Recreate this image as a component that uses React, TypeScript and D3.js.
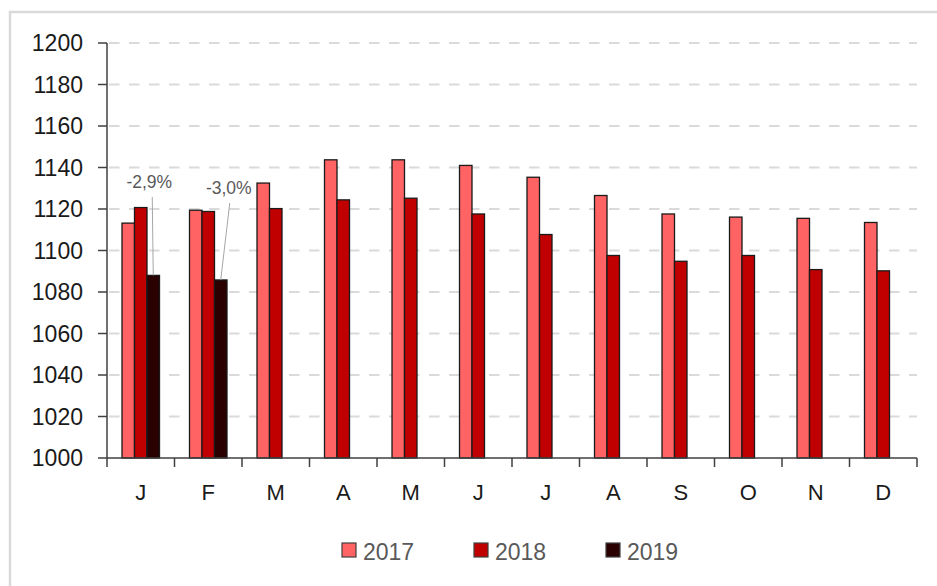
import React from 'react';
import * as d3 from 'd3';

// monthly values
const months = ['J', 'F', 'M', 'A', 'M', 'J', 'J', 'A', 'S', 'O', 'N', 'D'];
const series = ['2017', '2018', '2019'];
const values2017 = [1113.2, 1119.4, 1132.5, 1143.7, 1143.7, 1141, 1135.3, 1126.5, 1117.6, 1116.1, 1115.5, 1113.5];
const values2018 = [1120.7, 1118.8, 1120.2, 1124.4, 1125.2, 1117.6, 1107.7, 1097.6, 1094.8, 1097.6, 1090.8, 1090.2];
const values2019 = [1088, 1085.8];
const yTicks = [1000, 1020, 1040, 1060, 1080, 1100, 1120, 1140, 1160, 1180, 1200];
const annotations = [
  { month: 0, text: '-2,9%' },
  { month: 1, text: '-3,0%' },
];

const colors: Record<string, string> = { '2017': '#ff6363', '2018': '#c00000', '2019': '#2a0000' };
const seriesValues: Record<string, number[]> = { '2017': values2017, '2018': values2018, '2019': values2019 };

export default function App() {
  const width = 937;
  const height = 586;
  const margin = { top: 43, right: 20, bottom: 128, left: 107 };
  const plotRight = width - margin.right;
  const plotBottom = height - margin.bottom;

  const x = d3.scaleBand<number>()
    .domain(months.map((_, i) => i))
    .range([margin.left, plotRight]);

  const groupWidth = 37.5;
  const inner = d3.scaleBand<string>()
    .domain(series)
    .range([-groupWidth / 2, groupWidth / 2]);

  const y = d3.scaleLinear()
    .domain([1000, 1200])
    .range([plotBottom, margin.top]);

  const font = '"Liberation Sans", Arial, sans-serif';
  const axisColor = '#404040';

  const tickXs = d3.range(months.length + 1).map(i => margin.left + i * x.bandwidth());

  return (
    <svg width={width} height={height} style={{ position: 'absolute', left: 0, top: 0, background: '#fff' }}>
      <rect x={10} y={12} width={width + 20} height={height + 20} fill="#fff" stroke="#d9d9d9" strokeWidth={2.5} />

      {/* gridlines */}
      {yTicks.filter(t => t > 1000).map(t => (
        <line key={t} x1={margin.left + 2} x2={plotRight} y1={y(t)} y2={y(t)}
          stroke="#dadada" strokeWidth={2.2} strokeDasharray="10.5,9.5" />
      ))}

      {/* bars */}
      {series.map(s => seriesValues[s].map((v, i) => {
        const cx = x(i)! + x.bandwidth() / 2;
        return (
          <rect key={s + i} x={cx + inner(s)!} y={y(v)} width={inner.bandwidth()} height={plotBottom - y(v)}
            fill={colors[s]} stroke="#1a1a1a" strokeWidth={1.3} />
        );
      }))}

      {/* y axis */}
      <line x1={margin.left} x2={margin.left} y1={margin.top} y2={plotBottom} stroke={axisColor} strokeWidth={1.5} />
      {yTicks.map(t => (
        <g key={t}>
          <line x1={margin.left - 9} x2={margin.left} y1={y(t)} y2={y(t)} stroke={axisColor} strokeWidth={1.5} />
          <text x={83} y={y(t)} dy="0.36em" textAnchor="end" fontFamily={font} fontSize={23} fill="#1a1a1a">{t}</text>
        </g>
      ))}

      {/* x axis */}
      <line x1={margin.left} x2={plotRight} y1={plotBottom} y2={plotBottom} stroke={axisColor} strokeWidth={1.5} />
      {tickXs.map((tx, i) => (
        <line key={i} x1={tx} x2={tx} y1={plotBottom} y2={plotBottom + 9} stroke={axisColor} strokeWidth={1.5} />
      ))}
      {months.map((m, i) => (
        <text key={i} x={x(i)! + x.bandwidth() / 2} y={500} textAnchor="middle" fontFamily={font} fontSize={22} fill="#1a1a1a">{m}</text>
      ))}

      {/* annotations with leader lines */}
      {annotations.map((a, k) => {
        const barX = x(a.month)! + x.bandwidth() / 2 + inner('2019')! + inner.bandwidth() / 2;
        const barTop = y(values2019[a.month]);
        const labelX = k === 0 ? barX - 4 : barX + 8;
        const labelY = k === 0 ? 188 : 194;
        return (
          <g key={k}>
            <line x1={k === 0 ? barX - 1 : barX + 9} y1={labelY + 9} x2={barX} y2={barTop} stroke="#a6a6a6" strokeWidth={1} />
            <text x={labelX} y={labelY} textAnchor="middle" fontFamily={font} fontSize={17.5} fill="#595959">{a.text}</text>
          </g>
        );
      })}

      {/* legend */}
      {series.map((s, i) => {
        const lx = 342 + i * 132;
        return (
          <g key={s}>
            <rect x={lx} y={543} width={14} height={14} fill={colors[s]} stroke="#404040" strokeWidth={1.2} />
            <text x={lx + 21} y={559.5} fontFamily={font} fontSize={23} fill="#595959">{s}</text>
          </g>
        );
      })}
    </svg>
  );
}
